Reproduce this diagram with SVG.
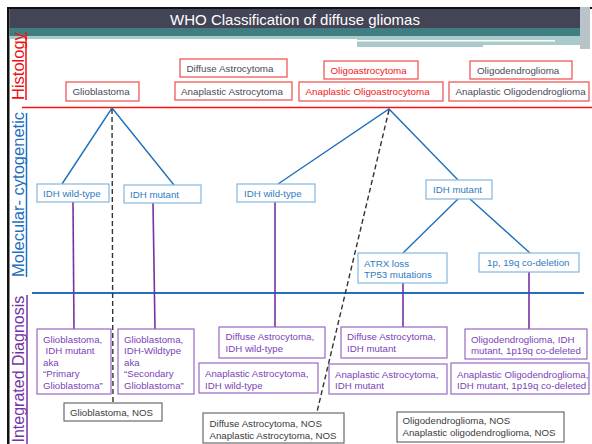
<svg xmlns="http://www.w3.org/2000/svg" width="592" height="444" viewBox="0 0 592 444">
<style>
text{font-family:"Liberation Sans",Arial,sans-serif;font-size:9.8px}
.h rect{fill:#fff;stroke:#ef4a4a;stroke-width:1.2}
.h text{fill:#4a4a58}
.h text.r{fill:#f01818}
.m rect{fill:#fff;stroke:#86b6e0;stroke-width:1.2}
.m text{fill:#2f7bc2;font-size:9.7px}
.d rect{fill:#fff;stroke:#9a68c6;stroke-width:1.2}
.d text{fill:#7b3fb8;font-size:9.7px}
.n rect{fill:#fff;stroke:#6a6a6a;stroke-width:1.2}
.n text{fill:#3c3c3c;font-size:9.7px}
.lb{font-size:16.5px}
.bl{stroke:#1f70bd;stroke-width:1.4;fill:none}
.pl{stroke:#7432a6;stroke-width:1.6;fill:none}
.ds{stroke:#333;stroke-width:1.4;stroke-dasharray:5,3;fill:none}
</style>
<rect x="0" y="0" width="592" height="444" fill="#fff"/>
<!-- frame / header -->
<g id="header">
<rect x="7" y="7" width="585" height="2" fill="#111"/>
<rect x="7" y="7" width="2.5" height="437" fill="#111"/>
<rect x="9.5" y="9" width="571" height="19" fill="#434456"/>
<rect x="9.5" y="28" width="571" height="8" fill="#417e82"/>
<rect x="9.5" y="36" width="571" height="3" fill="#a9caca"/>
<rect x="357" y="36" width="223" height="11" fill="#a9caca"/>
<rect x="357" y="40" width="198" height="1.5" fill="#fff"/>
<rect x="483" y="45" width="97" height="3" fill="#fff"/>
<rect x="580" y="7" width="10" height="42" fill="#b9c4c8"/>
<text x="295" y="25" text-anchor="middle" fill="#fff" style="font-size:15px">WHO Classification of diffuse gliomas</text>
</g>
<!-- section labels -->
<g id="labels">
<text class="lb" transform="translate(24,100) rotate(-90)" fill="#f01010">Histology</text>
<line x1="26" y1="32" x2="26" y2="100" stroke="#f01010" stroke-width="1.5"/>
<text class="lb" transform="translate(24,277) rotate(-90)" fill="#1f70bd">Molecular- cytogenetic</text>
<line x1="26.5" y1="113" x2="26.5" y2="277" stroke="#1f70bd" stroke-width="1.5"/>
<text transform="translate(24,442.5) rotate(-90)" fill="#7432a6" style="font-size:16px">Integrated Diagnosis</text>
<line x1="27" y1="295" x2="27" y2="444" stroke="#7432a6" stroke-width="1.5"/>
</g>
<!-- connectors -->
<g id="connectors">
<line x1="22" y1="107.5" x2="592" y2="107.5" stroke="#ff1010" stroke-width="1.6"/>
<line x1="32" y1="293" x2="584" y2="293" stroke="#1f70bd" stroke-width="2"/>
<polyline class="bl" points="62,184 112,108 174,185"/>
<polyline class="bl" points="278,184 389,109 458,180"/>
<line class="bl" x1="458" y1="199" x2="403" y2="253"/>
<line class="bl" x1="470" y1="199" x2="530" y2="253"/>
<line class="ds" x1="112" y1="109" x2="113" y2="403"/>
<line class="ds" x1="389" y1="110" x2="317" y2="412"/>
<line class="pl" x1="73" y1="202" x2="74" y2="329"/>
<line class="pl" x1="153" y1="203" x2="155" y2="329"/>
<line class="pl" x1="275" y1="202" x2="275" y2="327"/>
<line class="pl" x1="403" y1="283" x2="403" y2="327"/>
<line class="pl" x1="529" y1="272" x2="529" y2="329"/>
</g>
<!-- histology -->
<g id="h-gbm" class="h"><rect x="66" y="82" width="73" height="19"/><text x="72.5" y="95">Glioblastoma</text></g>
<g id="h-da" class="h"><rect x="180" y="59" width="107" height="18"/><text x="186.5" y="71.5">Diffuse Astrocytoma</text></g>
<g id="h-aa" class="h"><rect x="175" y="82" width="117" height="18"/><text x="181" y="94.5">Anaplastic Astrocytoma</text></g>
<g id="h-oa" class="h"><rect x="324" y="61" width="94" height="18"/><text class="r" x="330.5" y="73.5">Oligoastrocytoma</text></g>
<g id="h-aoa" class="h"><rect x="299" y="82" width="144" height="19"/><text class="r" x="305.5" y="95">Anaplastic Oligoastrocytoma</text></g>
<g id="h-o" class="h"><rect x="470" y="61" width="102" height="18"/><text x="477" y="73.5">Oligodendroglioma</text></g>
<g id="h-ao" class="h"><rect x="449" y="82" width="140" height="19"/><text x="455.5" y="95">Anaplastic Oligodendroglioma</text></g>
<!-- molecular -->
<g id="m-wt1" class="m"><rect x="37" y="184" width="72" height="18"/><text x="43" y="196.5">IDH wild-type</text></g>
<g id="m-mut1" class="m"><rect x="124" y="185" width="77" height="18"/><text x="130" y="197.5">IDH mutant</text></g>
<g id="m-wt2" class="m"><rect x="237" y="184" width="78" height="18"/><text x="244" y="196.5">IDH wild-type</text></g>
<g id="m-mut2" class="m"><rect x="426" y="180" width="66" height="19"/><text x="433" y="193">IDH mutant</text></g>
<g id="m-atrx" class="m"><rect x="358" y="253" width="89" height="30"/><text x="364" y="266.5">ATRX loss</text><text x="364" y="278">TP53 mutations</text></g>
<g id="m-codel" class="m"><rect x="479" y="253" width="100" height="19"/><text x="487" y="266">1p, 19q co-deletion</text></g>
<!-- integrated diagnosis -->
<g id="d-gbm-mut" class="d"><rect x="37" y="329" width="74" height="65"/>
<text x="43" y="342.5">Glioblastoma,</text><text x="45.5" y="354">IDH mutant</text><text x="43" y="365.5">aka</text><text x="43" y="377">“Primary</text><text x="43" y="389">Glioblastoma”</text></g>
<g id="d-gbm-wt" class="d"><rect x="118" y="329" width="76" height="65"/>
<text x="124" y="342.5">Glioblastoma,</text><text x="124" y="354">IDH-Wildtype</text><text x="124" y="365.5">aka</text><text x="124" y="377">“Secondary</text><text x="124" y="389">Glioblastoma”</text></g>
<g id="d-gbm-nos" class="n"><rect x="64" y="403" width="98" height="18"/><text x="70" y="416">Glioblastoma, NOS</text></g>
<g id="d-da-wt" class="d"><rect x="219" y="327" width="106" height="31"/><text x="225.5" y="340">Diffuse Astrocytoma,</text><text x="225.5" y="352">IDH wild-type</text></g>
<g id="d-aa-wt" class="d"><rect x="199" y="363" width="119" height="30"/><text x="205" y="377">Anaplastic Astrocytoma,</text><text x="205" y="389">IDH wild-type</text></g>
<g id="d-a-nos" class="n"><rect x="203" y="413" width="141" height="30"/><text x="209.5" y="426.5">Diffuse Astrocytoma, NOS</text><text x="209.5" y="438.5">Anaplastic Astrocytoma, NOS</text></g>
<g id="d-da-mut" class="d"><rect x="341" y="327" width="106" height="31"/><text x="347" y="340">Diffuse Astrocytoma,</text><text x="347" y="352">IDH mutant</text></g>
<g id="d-aa-mut" class="d"><rect x="329" y="364" width="118" height="30"/><text x="335" y="377.5">Anaplastic Astrocytoma,</text><text x="335" y="389">IDH mutant</text></g>
<g id="d-o-codel" class="d"><rect x="465" y="329" width="122" height="30"/><text x="471" y="342.5">Oligodendroglioma, IDH</text><text x="471" y="354">mutant, 1p19q co-deleted</text></g>
<g id="d-ao-codel" class="d"><rect x="451" y="363" width="138" height="31"/><text x="457" y="377.5">Anaplastic Oligodendroglioma,</text><text x="457" y="389">IDH mutant, 1p19q co-deleted</text></g>
<g id="d-o-nos" class="n"><rect x="397" y="412" width="167" height="30"/><text x="402.5" y="424">Oligodendroglioma, NOS</text><text x="402.5" y="436">Anaplastic oligodendroglioma, NOS</text></g>
</svg>
